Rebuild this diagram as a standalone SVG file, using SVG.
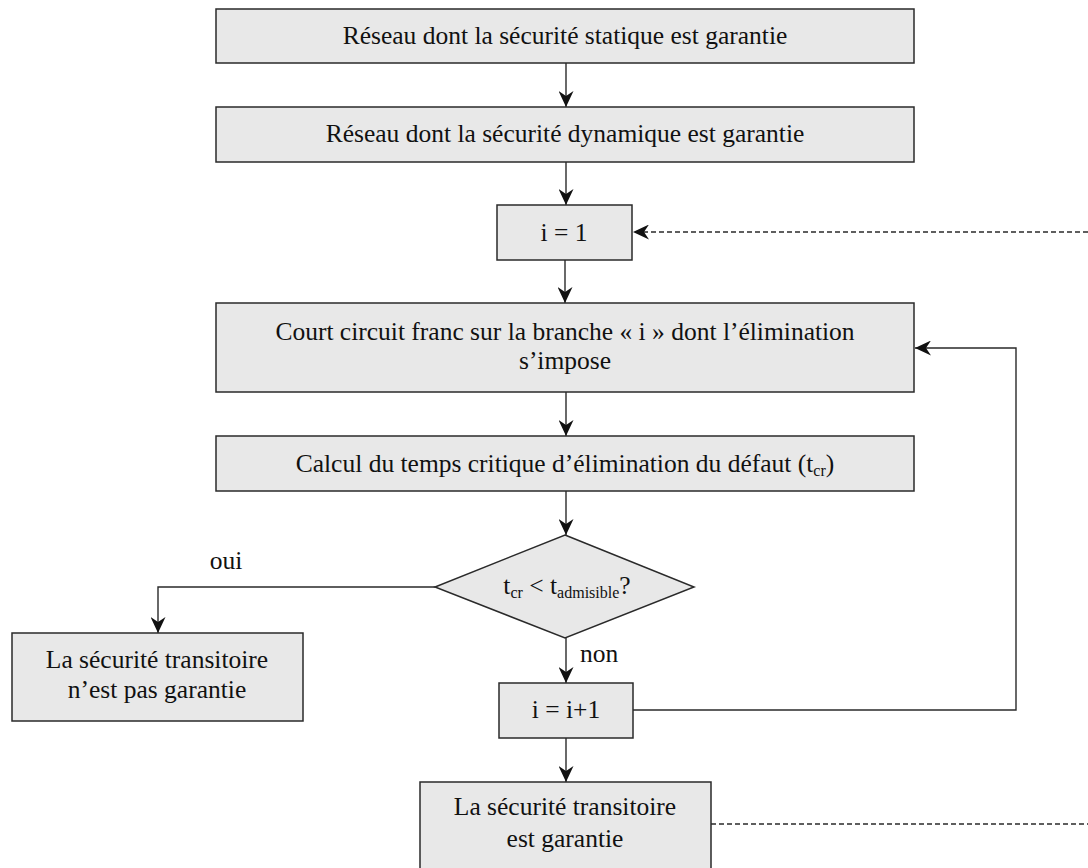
<svg xmlns="http://www.w3.org/2000/svg" width="1088" height="868" viewBox="0 0 1088 868">
  <style>
    .box { fill: #e8e8e8; stroke: #2a2a2a; stroke-width: 1.5; }
    .lbl { font-family: "Liberation Serif", "Times New Roman", serif; font-size: 25.5px; fill: #111; }
    .mid { text-anchor: middle; }
    .sub { font-size: 16px; }
    .link { fill: none; stroke: #2a2a2a; stroke-width: 1.4; }
    .dash { stroke-dasharray: 5 3; }
  </style>
  <defs>
    <marker id="head" viewBox="0 0 16 15" refX="16" refY="7.5" markerWidth="16" markerHeight="15" markerUnits="userSpaceOnUse" orient="auto">
      <path d="M0,0 L16,7.5 L0,15 L5,7.5 Z" fill="#111"/>
    </marker>
  </defs>

  <rect width="1088" height="868" fill="#ffffff"/>

  <!-- connectors -->
  <g id="connectors">
    <line class="link" x1="566" y1="63" x2="566" y2="107" marker-end="url(#head)"/>
    <line class="link" x1="566" y1="162" x2="566" y2="205" marker-end="url(#head)"/>
    <line class="link" x1="565" y1="260" x2="565" y2="303" marker-end="url(#head)"/>
    <line class="link" x1="566" y1="392" x2="566" y2="436" marker-end="url(#head)"/>
    <line class="link" x1="566" y1="491" x2="566" y2="535" marker-end="url(#head)"/>
    <line class="link" x1="566" y1="638" x2="566" y2="683" marker-end="url(#head)"/>
    <line class="link" x1="566" y1="738" x2="566" y2="782" marker-end="url(#head)"/>
    <!-- oui branch -->
    <polyline class="link" points="435,587 158,587 158,633" marker-end="url(#head)"/>
    <!-- loop back to the short-circuit step -->
    <polyline class="link" points="633,710 1016,710 1016,348 915,348" marker-end="url(#head)"/>
    <!-- dashed return to i = 1 -->
    <line class="link dash" x1="1088" y1="232" x2="633" y2="232" marker-end="url(#head)"/>
    <line class="link dash" x1="711" y1="824" x2="1088" y2="824"/>
    <text class="lbl" x="226" y="569" text-anchor="middle">oui</text>
    <text class="lbl" x="580" y="662">non</text>
  </g>

  <g id="static">
    <rect class="box" x="216" y="9" width="698" height="54"/>
    <text class="lbl mid" x="565" y="44">Réseau dont la sécurité statique est garantie</text>
  </g>

  <g id="dynamic">
    <rect class="box" x="216" y="107" width="698" height="55"/>
    <text class="lbl mid" x="565" y="142">Réseau dont la sécurité dynamique est garantie</text>
  </g>

  <g id="init">
    <rect class="box" x="497" y="205" width="135" height="55"/>
    <text class="lbl mid" x="564" y="241">i = 1</text>
  </g>

  <g id="shortcircuit">
    <rect class="box" x="216" y="303" width="698" height="89"/>
    <text class="lbl mid" x="565" y="340">Court circuit franc sur la branche « i » dont l’élimination</text>
    <text class="lbl mid" x="565" y="369">s’impose</text>
  </g>

  <g id="critical">
    <rect class="box" x="216" y="436" width="698" height="55"/>
    <text class="lbl mid" x="565" y="472">Calcul du temps critique d’élimination du défaut (t<tspan class="sub" dy="4">cr</tspan><tspan dy="-4">)</tspan></text>
  </g>

  <g id="test">
    <polygon class="box" points="565,535 694,587 565,638 435,587"/>
    <text class="lbl mid" x="567" y="594">t<tspan class="sub" dy="4">cr</tspan><tspan dy="-4"> &lt; t</tspan><tspan class="sub" dy="4">admisible</tspan><tspan dy="-4">?</tspan></text>
  </g>

  <g id="unsafe">
    <rect class="box" x="12" y="633" width="291" height="88"/>
    <text class="lbl mid" x="157" y="668">La sécurité transitoire</text>
    <text class="lbl mid" x="157" y="698">n’est pas garantie</text>
  </g>

  <g id="increment">
    <rect class="box" x="499" y="683" width="134" height="55"/>
    <text class="lbl mid" x="566" y="718">i = i+1</text>
  </g>

  <g id="safe">
    <rect class="box" x="420" y="782" width="291" height="100"/>
    <text class="lbl mid" x="565" y="815">La sécurité transitoire</text>
    <text class="lbl mid" x="565" y="847">est garantie</text>
  </g>
</svg>
